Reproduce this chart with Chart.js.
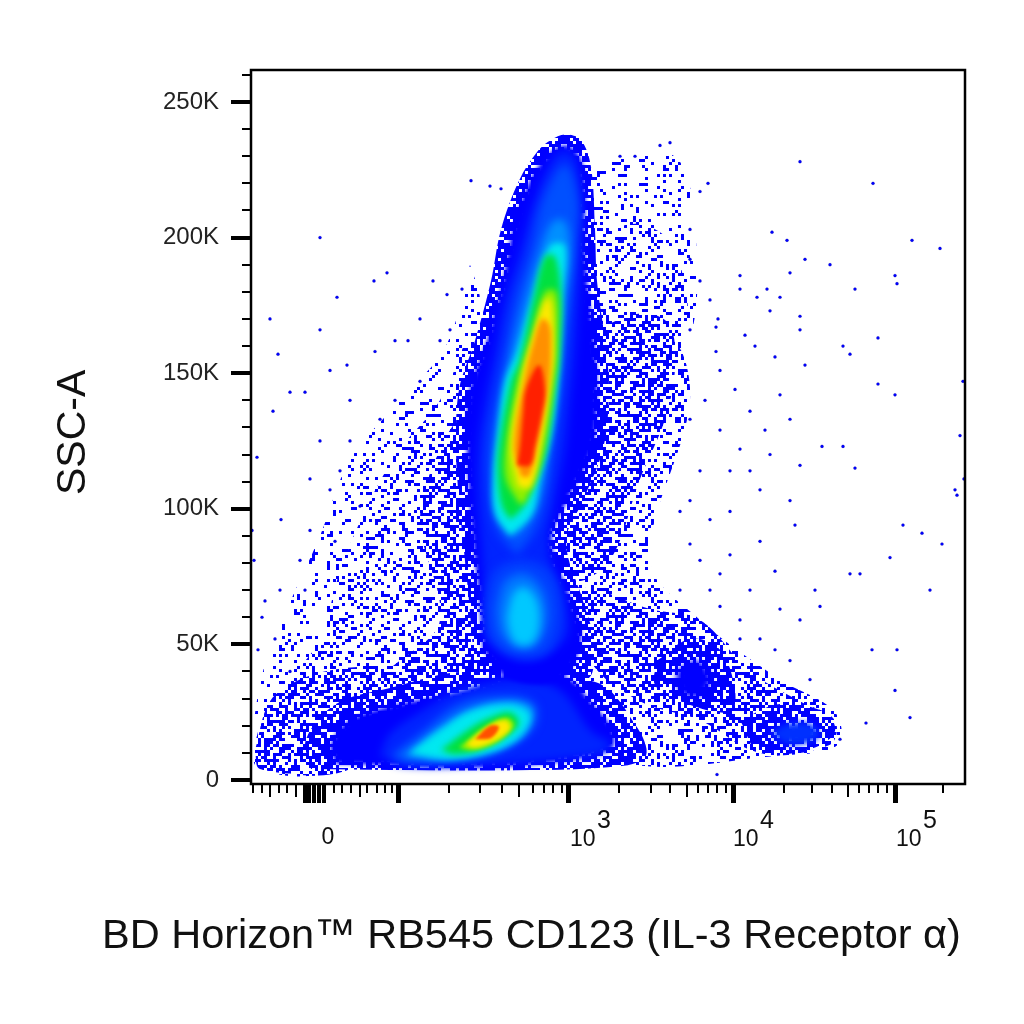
<!DOCTYPE html>
<html>
<head>
<meta charset="utf-8">
<style>
  html, body { margin: 0; padding: 0; background: #fff; }
  canvas { display: block; }
</style>
<script src="https://cdn.jsdelivr.net/npm/chart.js@4/dist/chart.umd.js"></script>
</head>
<body>
<canvas id="myChart" width="1024" height="1024"></canvas>
<script>
// Text
const xTitle = 'BD Horizon\u2122 RB545 CD123 (IL-3 Receptor \u03b1)';
const yTitle = 'SSC-A';

// Y axis, SSC-A in thousands
const yMajorTicks = [0, 50, 100, 150, 200, 250];
const yMinorTicks = [10, 20, 30, 40, 60, 70, 80, 90, 110, 120, 130, 140, 160, 170, 180, 190, 210, 220, 230, 240, 260];

// X axis, biexponential display channel
const xMajorTicks = [147, 317, 482, 644];
const xZeroTicks = [54, 58, 63, 68, 73];
const xMediumTicks = [19, 45, 109, 268, 436, 597];
const xMinorTicks = [2, 11, 28, 36, 83, 91, 100, 116, 126, 134, 141, 198, 229, 251, 282, 293, 302, 311, 368, 400, 419, 447, 457, 466, 475, 533, 561, 581, 608, 618, 627, 636, 692];
const xZeroLabel = ['0', 77];
const xDecadeLabels = [['3', 319], ['4', 482], ['5', 645]];

// Density contours, [channel, SSC-A K]
const stemFringe = [[222,48],[218,66],[212,88],[208,103],[205,122],[208,144],[224,162],[240,184],[250,203],[268,221],[287,232],[300,236],[314,238],[330,236],[340,226],[344,203],[346,184],[354,162],[358,144],[352,122],[332,103],[315,88],[332,66],[342,52],[335,37],[219,37]];
const stemBase = [[232,48],[229,66],[222,88],[219,103],[216,122],[219,144],[236,162],[252,184],[262,203],[279,221],[296,230],[314,234],[328,230],[334,220],[333,203],[336,184],[343,162],[346,144],[341,122],[316,103],[300,88],[320,66],[330,52],[309,37],[259,37]];
const stemBlue1 = [[236,52],[234,66],[231,85],[227,103],[227,122],[234,140],[244,158],[254,177],[269,195],[284,214],[302,229],[314,232],[324,229],[329,214],[329,195],[327,177],[324,158],[319,140],[314,122],[304,103],[297,85],[314,66],[314,52],[274,44]];
const stemBlue2 = [[266,83],[246,92],[239,103],[237,122],[244,140],[254,158],[264,177],[279,195],[292,214],[314,227],[327,214],[324,195],[319,177],[314,158],[309,140],[302,122],[294,103],[284,92]];
const stemBlue3 = [[264,90],[254,94],[247,103],[246,122],[252,140],[261,158],[274,177],[289,195],[302,206],[314,206],[319,195],[314,177],[309,158],[304,140],[297,122],[287,103],[274,94]];
const stemCyan = [[259,90],[244,98],[242,111],[247,129],[254,147],[266,158],[281,177],[299,197],[314,197],[311,177],[309,158],[307,147],[301,129],[289,111],[281,98]];
const stemGreen = [[259,96],[251,101],[247,111],[248,123],[260,147],[268,154],[283,178],[294,193],[304,193],[310,178],[308,154],[305,147],[296,123],[286,111],[271,100]];
const stemLime = [[268,102],[255,111],[255,123],[267,147],[280,162],[294,180],[305,180],[306,162],[303,147],[293,123],[283,111],[273,102]];
const stemYellow = [[267,108],[260,123],[270,147],[277,158],[294,177],[300,177],[303,158],[300,147],[290,123],[280,108]];
const stemOrange = [[270,112],[263,123],[273,147],[283,162],[291,170],[298,168],[300,162],[298,147],[286,123],[278,112]];
const stemRed = [[266,116],[269,123],[272,135],[275,144],[288,153],[294,144],[291,135],[284,123],[279,116]];

const midBlue1 = [[234,64],[244,77],[272,81],[300,76],[309,60],[295,47],[260,46],[240,52]];
const midBlue2 = [[246,63],[254,73],[272,76],[290,71],[296,60],[285,50],[265,49],[250,54]];
const midBlue3 = [[256,60],[263,69],[274,71],[286,66],[288,56],[280,50],[266,50],[259,54]];

const lowFringe = [[60,4],[55,15],[85,28],[140,34],[215,40],[345,36],[385,20],[395,9],[369,5],[249,3.5]];
const lowBase = [[85,6],[80,13],[99,22],[149,28],[219,33],[269,40],[319,37],[339,29],[362,18],[358,11],[249,5]];
const lowBlue1 = [[129,9],[139,17],[169,25],[209,33],[269,37],[309,33],[340,18],[360,13],[340,9],[219,5.5],[150,5.5]];
const lowBlue2 = [[141,9],[169,17],[209,28],[259,31],[284,28],[284,20],[259,12],[219,7.4],[159,6.6]];
const lowBlue3 = [[154,9],[184,18],[219,26],[259,29],[281,26],[274,17],[246,11],[199,7.4]];
const lowCyan = [[160,10],[189,18],[219,25],[259,27.5],[278,24],[270,17],[244,11],[199,8]];
const lowGreen = [[190,11],[219,19],[239,23],[259,25],[268,21],[255,16],[229,11],[204,9.5]];
const lowLime = [[208,12],[232,19],[255,23],[263,20],[246,14],[222,11]];
const lowYellow = [[215,13],[234,19],[254,22],[259,19],[244,14.5],[225,12]];
const lowRed = [[224,15],[239,20],[248,19.5],[240,15.5]];

const armCore = [[406,44],[439,52],[469,48],[484,33],[479,25],[429,29],[404,35]];
const armHeart = [[425,40],[445,44],[460,38],[450,31],[430,32]];
const armTail = [[489,22],[529,28],[574,25],[584,18],[564,12],[509,10]];
const armLight = [[519,17],[539,21],[564,20],[567,15.5],[539,13]];

// Outlines of the speckled areas
const fanRightTop = [[339,225],[389,232],[429,228],[445,199],[438,162],[389,140],[349,140]];
const fanRightUp = [[339,200],[389,205],[425,195],[430,160],[345,160]];
const fanLeft = [[219,190],[195,160],[149,140],[99,118],[69,90],[35,62],[10,37],[1,7],[79,3],[229,37],[229,177]];
const fanLeftNear = [[219,166],[189,140],[149,122],[119,103],[89,77],[69,52],[39,37],[11,22],[4,5.5],[79,4],[229,37],[229,166]];
const fanRightLow = [[339,140],[419,162],[439,140],[399,81],[449,59],[529,37],[584,25],[587,13],[529,9],[369,6.6],[309,29],[339,103]];
const fanRightMid = [[339,165],[389,172],[418,168],[424,152],[414,133],[389,111],[359,81],[324,74],[314,103],[339,133]];
const fanLeftMid = [[219,140],[189,122],[169,96],[189,59],[149,44],[89,29],[49,18],[19,15],[24,4],[99,4],[229,37],[229,129]];
const fanBottomLeft = [[4,11],[19,29],[49,37],[89,41],[149,42],[219,41],[219,29],[149,26],[89,16],[69,4],[9,4]];
const armMid = [[349,70],[399,63],[449,59],[499,40],[549,29],[584,22],[579,13],[509,10],[449,22],[389,29],[339,44],[324,70]];

// Single events away from the populations
const dotsX = [69,19,27,86,123,136,220,239,250,69,182,196,211,39,54,22,6,30,1,3,11,157,144,124,96,79,549,622,521,536,661,689,554,579,604,644,646,489,489,539,516,506,529,519,549,549,592,599,627,467,465,465,494,504,524,554,627,644,712,709,713,706,704,652,671,691,639,599,609,679,621,646,564,569,644,659,615,466,589,519,549,571,592,604,469,489,499,509,539,544,509,479,469,499,524,489,529,549,439,449,459,449,479,449,457,419,409,369,384,439,449,439,459,439,469,454,439,484,499,514,529,539,479,429,439,459,429,469,509,539,559,524,489,99,89,109,79,49,59,29,24,144,169,129,189,169,199,99,69,59,14,7,39,54,84];
const dotsY = [200,170,157,178,184,187,221,219,218,166,184,179,181,143,143,136,119,96,92,81,60,162,162,158,153,151,228,220,202,199,199,196,192,190,181,186,183,186,181,187,181,178,178,173,171,166,160,157,163,170,167,158,164,160,156,153,146,142,147,127,111,105,107,94,91,87,82,76,76,70,48,48,70,64,33,23,21,2,15,120,116,123,123,115,129,122,114,107,103,94,88,83,76,70,77,59,63,59,103,114,96,81,99,217,220,235,234,230,230,203,184,192,177,166,151,140,133,144,136,129,142,133,114,99,87,70,70,64,52,44,37,48,52,125,114,101,107,81,92,70,52,140,147,133,162,170,166,140,125,111,66,48,40,70,88];

// Texture bits for the speckled areas
const speckleRows = [
  '9A3C51E7B2046DF8','47D1A86E0F93C25B','E20B7C9415FA386D','1F86D3A2C75E094B',
  'B5492E07DA61C3F8','60CF1B83E29D475A','D37A04F68B15E2C9','289EC5710D6BF3A4',
  'F41687BD32CE905A','7BA2C05E9F4316D8','0CD95E36A18F72B4','A61F84B3D70E2C95',
  '53E07A9C1D64BF28','C82D46F15B0A93E7','1E97B3A84C5F60D2','96403FD2E8B71A5C',
  '3DB51C67F0A294E8','E8762A0D19C5B34F','4A1CF39B86D7025E','B7E08D4265A3F1C9',
  '25F6A9C371E84B0D','D9143E7B0FC6285A','6C8B25D1A49F07E3','08F37E96C2B5D14A',
  'F2A5D10C87364EB9','917C4BE3065DA2F8','3E60F8A2D91B75C4','A4D72C16EB3F8059',
  '5B09E6F47C82D1A3','CF381DA05726B9E4','72E4B9186AD3C05F','1D6A03C7F4E8952B',
  '8C51F2EA3B07D964','E03B96D4182AF7C5','469DC7025FB1E83A','B2F81A6E49C305D7',
  '0A75E3D9C6148FB2','D6C24F1B37A9E058','39A8067DE5F2C14B','F51E9B2C8064A7D3'
];
const tileColumns = 64;

function speckleBit(row, col) {
  const r = speckleRows[(row + speckleRows.length) % speckleRows.length];
  const c = (col + tileColumns) % tileColumns;
  return (parseInt(r[Math.floor(c / 4)], 16) >> (c % 4)) & 1;
}

// Builds a canvas pattern from the bits: 0 = thick, 3 = thin
function speckle(level) {
  const cell = 3;
  const tile = document.createElement('canvas');
  tile.width = tileColumns * cell;
  tile.height = speckleRows.length * cell;
  const g = tile.getContext('2d');
  g.fillStyle = '#0000ff';
  for (let row = 0; row < speckleRows.length; row++) {
    for (let col = 0; col < tileColumns; col++) {
      let on = speckleBit(row, col);
      if (level === 0) on = on | speckleBit(row + 13, col + 23);
      if (level > 1) on = on & speckleBit(row + 7, col + 11);
      if (level > 2) on = on & speckleBit(row + 17, col + 29);
      if (on) g.fillRect(col * cell, row * cell, cell, cell);
    }
  }
  return g.createPattern(tile, 'repeat');
}

const thin = speckle(3);
const light = speckle(2);
const mid = speckle(1);
const thick = speckle(0);

// Back to front: outline, fill, blur
const bands = [
  [fanLeft, thin, 0.5], [fanRightTop, thin, 0.5], [fanRightUp, light, 0.5], [fanLeftNear, light, 0.5], [fanRightLow, light, 0.5],
  [fanLeftMid, mid, 0.5], [fanBottomLeft, mid, 0.5], [fanRightMid, mid, 0.5], [armMid, mid, 0.5],
  [stemFringe, thick, 0.5], [lowFringe, thick, 0.5],
  [armCore, thick, 0.5], [armHeart, '#0000ff', 3], [armTail, thick, 0.5], [armLight, '#0030ff', 3],
  [lowBase, '#0000ff', 2], [lowBlue1, '#0024ff', 4], [lowBlue2, '#0060ff', 4], [lowBlue3, '#00a8ff', 3],
  [lowCyan, '#00e8f0', 3], [lowGreen, '#00e040', 3], [lowLime, '#90f000', 2], [lowYellow, '#ffe800', 2], [lowRed, '#ff5000', 1.5],
  [stemBase, '#0000ff', 2], [stemBlue1, '#0024ff', 5], [midBlue1, '#0040ff', 5], [midBlue2, '#0078ff', 5], [midBlue3, '#00c8ff', 4],
  [stemBlue2, '#0050ff', 5], [stemBlue3, '#0090ff', 4], [stemCyan, '#00e8f0', 3],
  [stemGreen, '#00e040', 3], [stemLime, '#90f000', 3], [stemYellow, '#ffe800', 3], [stemOrange, '#ff9000', 2.5], [stemRed, '#ff2000', 2]
];

const datasets = [{
  label: 'events',
  data: dotsX.map((x, i) => ({ x: x, y: dotsY[i] })),
  backgroundColor: '#0000ff',
  pointRadius: 1.6,
  showLine: false,
  order: 0
}];

bands.forEach(function(band, i) {
  const points = band[0].concat([band[0][0]]).map(p => ({ x: p[0], y: p[1] }));
  datasets.push({
    label: 'band ' + i,
    data: points,
    showLine: true,
    fill: 'shape',
    tension: 0.35,
    borderWidth: 0,
    pointRadius: 0,
    backgroundColor: band[1],
    order: bands.length - i
  });
});

// Softens the contours: the filter has to be set before the filler paints the next band
const softEdges = {
  id: 'softEdges',
  beforeDatasetsDraw(chart) {
    chart.ctx.filter = 'blur(' + bands[0][2] + 'px)';
  },
  afterDatasetDraw(chart, args) {
    const next = bands[args.index];
    chart.ctx.filter = next ? 'blur(' + next[2] + 'px)' : 'blur(0.4px)';
  },
  afterDatasetsDraw(chart) {
    chart.ctx.filter = 'none';
  }
};

// Axis furniture that the scales cannot draw: ticks of several lengths, frame and titles
const axisMarks = {
  id: 'axisMarks',
  afterDraw(chart) {
    const c = chart.ctx;
    const a = chart.chartArea;
    const xs = chart.scales.x;
    const ys = chart.scales.y;
    c.save();
    c.fillStyle = '#000';
    function xTick(v, w, len) {
      c.fillRect(Math.round(xs.getPixelForValue(v) - w / 2), a.bottom, w, len);
    }
    function yTick(v, w, len) {
      c.fillRect(a.left - len, Math.round(ys.getPixelForValue(v) - w / 2), len, w);
    }
    xMinorTicks.forEach(v => xTick(v, 2, 9));
    xMediumTicks.forEach(v => xTick(v, 2, 13));
    xZeroTicks.forEach(v => xTick(v, 4, 19));
    xMajorTicks.forEach(v => xTick(v, 5, 19));
    yMinorTicks.forEach(v => yTick(v, 2, 9));
    yMajorTicks.forEach(v => yTick(v, 4, 20));
    c.strokeStyle = '#000';
    c.lineWidth = 2.5;
    c.strokeRect(a.left, a.top, a.right - a.left, a.bottom - a.top);

    c.fillStyle = '#111';
    c.textBaseline = 'alphabetic';
    c.font = '23px "Liberation Sans"';
    c.textAlign = 'center';
    c.fillText(xZeroLabel[0], xs.getPixelForValue(xZeroLabel[1]), 844);
    c.textAlign = 'left';
    xDecadeLabels.forEach(function(l) {
      const px = xs.getPixelForValue(l[1]);
      c.font = '23px "Liberation Sans"';
      c.fillText('10', px, 846);
      c.font = '25px "Liberation Sans"';
      c.fillText(l[0], px + 27, 828);
    });
    c.font = '41.5px "Liberation Sans"';
    c.fillText(xTitle, 102, 948);
    c.translate(85, 495);
    c.rotate(-Math.PI / 2);
    c.font = '41px "Liberation Sans"';
    c.fillText(yTitle, 0, 0);
    c.restore();
  }
};

const myChart = new Chart(document.getElementById('myChart'), {
  type: 'scatter',
  data: { datasets: datasets },
  plugins: [softEdges, axisMarks],
  options: {
    responsive: false,
    animation: false,
    layout: { padding: { left: 0, right: 59, top: 70, bottom: 0 } },
    plugins: { legend: { display: false }, tooltip: { enabled: false } },
    scales: {
      x: {
        type: 'linear',
        min: 0,
        max: 714,
        grid: { display: false },
        border: { display: false },
        ticks: { display: false },
        afterFit: function(scale) { scale.height = 240; }
      },
      y: {
        type: 'linear',
        min: -1.5,
        max: 261.8,
        grid: { display: false, drawTicks: false },
        border: { display: false },
        afterBuildTicks: function(scale) {
          scale.ticks = yMajorTicks.map(v => ({ value: v }));
        },
        ticks: {
          autoSkip: false,
          padding: 32,
          color: '#222',
          font: { family: 'Liberation Sans', size: 24 },
          callback: function(v) { return v === 0 ? '0' : v + 'K'; }
        },
        afterFit: function(scale) { scale.width = 251; }
      }
    }
  }
});
</script>
</body>
</html>
